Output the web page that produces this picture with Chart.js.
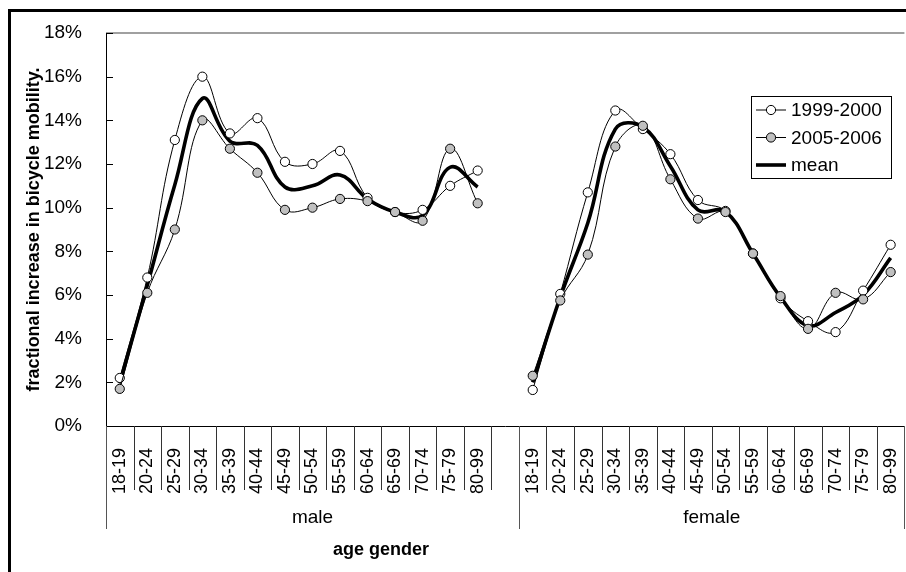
<!DOCTYPE html>
<html><head><meta charset="utf-8">
<script src="https://cdn.jsdelivr.net/npm/chart.js@4.4.0/dist/chart.umd.min.js"></script>
<style>
html,body{margin:0;padding:0;overflow:hidden;background:#fff;width:906px;height:572px}
#wrap{position:absolute;left:0;top:0;width:910px;height:572px}
</style></head>
<body><div id="wrap"><canvas id="c" width="910" height="572"></canvas></div>
<script>
// ---- data ----
const ageGroups = ['18-19','20-24','25-29','30-34','35-39','40-44','45-49','50-54','55-59','60-64','65-69','70-74','75-79','80-99'];
const genders = ['male','female'];
const seriesNames = ['1999-2000','2005-2006','mean'];
const yTicks = [0,2,4,6,8,10,12,14,16,18];
const male1999   = [2.2, 6.8, 13.1, 16.0, 13.4, 14.1, 12.1, 12.0, 12.6, 10.45, 9.8, 9.9, 11.0, 11.7];
const male2005   = [1.7, 6.1, 9.0, 14.0, 12.7, 11.6, 9.9, 10.0, 10.4, 10.3, 9.8, 9.4, 12.7, 10.2];
const maleMean   = [1.95, 6.45, 11.05, 15.0, 13.05, 12.85, 10.95, 11.0, 11.5, 10.4, 9.8, 9.65, 11.85, 10.95];
const female1999 = [1.65, 6.05, 10.7, 14.45, 13.6, 12.45, 10.35, 9.85, 7.9, 5.85, 4.8, 4.3, 6.2, 8.3];
const female2005 = [2.3, 5.75, 7.85, 12.8, 13.75, 11.3, 9.5, 9.8, 7.9, 5.95, 4.45, 6.1, 5.8, 7.05];
const femaleMean = [2.0, 5.9, 9.3, 13.6, 13.7, 11.9, 9.9, 9.82, 7.9, 5.9, 4.6, 5.2, 6.0, 7.7];

// categories: male ages, one empty slot, female ages
const categories = [...ageGroups, '', ...ageGroups];
const join = (m, f) => [...m, null, ...f];

const FONT = '"Liberation Sans", Arial, sans-serif';
Chart.defaults.font.family = FONT;
Chart.defaults.color = '#000';

const datasets = [
  {label: seriesNames[0], data: join(male1999, female1999), borderColor:'#000', borderWidth:1,
   pointRadius:4.6, pointBorderWidth:1, pointBorderColor:'#000', pointBackgroundColor:'#fff',
   tension:0.4, spanGaps:false, fill:false, order:2},
  {label: seriesNames[1], data: join(male2005, female2005), borderColor:'#000', borderWidth:1,
   pointRadius:4.6, pointBorderWidth:1, pointBorderColor:'#000', pointBackgroundColor:'#c0c0c0',
   tension:0.4, spanGaps:false, fill:false, order:1},
  {label: seriesNames[2], data: join(maleMean, femaleMean), borderColor:'#000', borderWidth:3.6,
   pointRadius:0, tension:0.4, spanGaps:false, fill:false, order:3}
];

const deco = {
  id: 'deco',
  beforeDraw(chart) {
    const ctx = chart.ctx;
    ctx.save();
    ctx.fillStyle = '#fff';
    ctx.fillRect(0, 0, chart.width, chart.height);
    ctx.restore();
  },
  afterDraw(chart) {
    const ctx = chart.ctx;
    const ca = chart.chartArea;
    const xs = chart.scales.x, ys = chart.scales.y;
    ctx.save();
    // outer frame
    ctx.fillStyle = '#000';
    ctx.fillRect(8, 9, chart.width, 3);
    ctx.fillRect(8, 9, 3, chart.height);
    // plot area top border
    ctx.fillStyle = '#a0a0a0';
    ctx.fillRect(ca.left, ca.top - 1, ca.right - ca.left, 2);
    // y inner tick marks
    ctx.strokeStyle = '#000';
    ctx.lineWidth = 1;
    yTicks.forEach(v => {
      const y = Math.round(ys.getPixelForValue(v)) + 0.5;
      ctx.beginPath(); ctx.moveTo(ca.left, y); ctx.lineTo(ca.left + 7, y); ctx.stroke();
    });
    // category boundaries
    const w = (xs.getPixelForValue(1) - xs.getPixelForValue(0));
    const n = categories.length;
    for (let i = 0; i <= n; i++) {
      const x = Math.round(xs.getPixelForValue(i) - w / 2) + 0.5;
      const sep = (i === 0 || i === ageGroups.length + 1 || i === n);
      ctx.strokeStyle = sep ? '#555' : '#333';
      ctx.beginPath(); ctx.moveTo(x, ca.bottom); ctx.lineTo(x, sep ? 529 : 490); ctx.stroke();
    }
    // group labels
    ctx.fillStyle = '#000';
    ctx.font = '19px ' + FONT;
    ctx.textAlign = 'center';
    ctx.textBaseline = 'middle';
    const g0a = xs.getPixelForValue(0) - w / 2, g0b = xs.getPixelForValue(ageGroups.length + 1) - w / 2;
    const g1b = xs.getPixelForValue(n - 1) + w / 2;
    ctx.fillText(genders[0], (g0a + g0b) / 2, 518);
    ctx.fillText(genders[1], (g0b + g1b) / 2, 518);
    // x axis title
    ctx.font = 'bold 18px ' + FONT;
    ctx.fillText('age gender', 381, 550);
    // legend
    const lx = 751, ly = 96, lw = 140, lh = 82;
    ctx.fillStyle = '#fff';
    ctx.fillRect(lx, ly, lw, lh);
    ctx.strokeStyle = '#000'; ctx.lineWidth = 1;
    ctx.strokeRect(lx + 0.5, ly + 0.5, lw, lh);
    const rows = [110, 137.5, 165];
    datasets.forEach((d, i) => {
      const y = rows[i];
      ctx.strokeStyle = d.borderColor;
      ctx.lineWidth = d.borderWidth;
      ctx.beginPath(); ctx.moveTo(756, y); ctx.lineTo(786, y); ctx.stroke();
      if (d.pointRadius > 0) {
        ctx.beginPath(); ctx.arc(771, y, d.pointRadius, 0, Math.PI * 2);
        ctx.fillStyle = d.pointBackgroundColor; ctx.fill();
        ctx.lineWidth = 1; ctx.strokeStyle = '#000'; ctx.stroke();
      }
      ctx.fillStyle = '#000';
      ctx.font = '19px ' + FONT;
      ctx.textAlign = 'left';
      ctx.fillText(d.label, 791, y + 1);
    });
    ctx.restore();
  }
};

new Chart(document.getElementById('c'), {
  type: 'line',
  data: { labels: categories, datasets },
  options: {
    responsive: false,
    animation: false,
    devicePixelRatio: 1,
    layout: { padding: { top: 33, left: 0, right: 0, bottom: 0 } },
    plugins: { legend: { display: false }, tooltip: { enabled: false } },
    scales: {
      x: {
        type: 'category', offset: true,
        grid: { display: false },
        border: { display: true, color: '#000', width: 1 },
        ticks: { autoSkip: false, maxRotation: 90, minRotation: 90, padding: 14,
                 font: { size: 18 }, color: '#000' },
        afterFit(s) { s.height = 146; s.paddingLeft = 0; s.paddingRight = 0; }
      },
      y: {
        min: 0, max: 18,
        afterBuildTicks(s) { s.ticks = yTicks.map(v => ({ value: v })); },
        ticks: { callback: v => v + '%', padding: 16, font: { size: 19 }, color: '#000' },
        grid: { display: false },
        border: { display: true, color: '#000', width: 1 },
        title: { display: true, text: 'fractional increase in bicycle mobility.',
                 font: { size: 18, weight: 'bold' }, color: '#000', padding: { top: 23, bottom: 0 } },
        afterFit(s) { s.width = 106; s.paddingTop = 0; s.paddingBottom = 0; }
      }
    }
  },
  plugins: [deco]
});
</script>
</body></html>
